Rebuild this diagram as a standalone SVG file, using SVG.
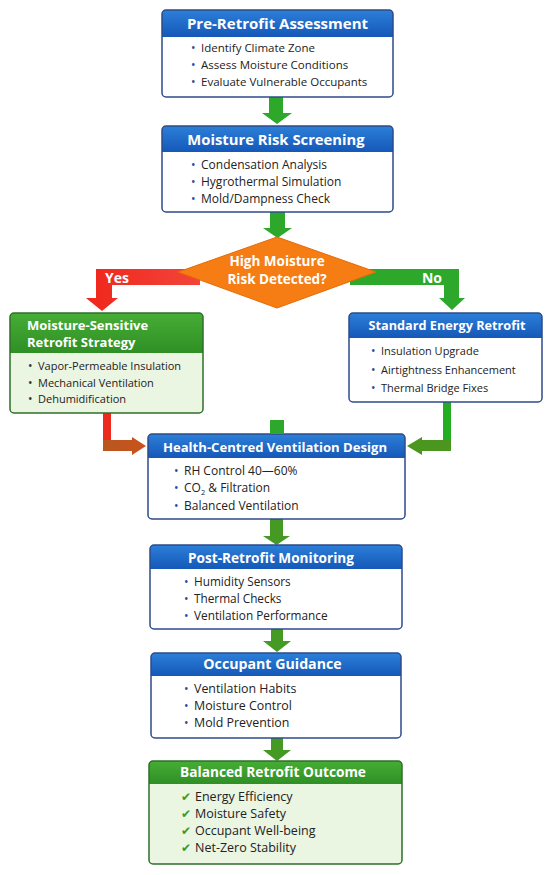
<svg xmlns="http://www.w3.org/2000/svg" width="550" height="875" viewBox="0 0 550 875">
<defs>
<linearGradient id="gBlue" x1="0" y1="0" x2="0" y2="1"><stop offset="0" stop-color="#2c7fd8"/><stop offset="1" stop-color="#1558b8"/></linearGradient>
<linearGradient id="gGreen" x1="0" y1="0" x2="0" y2="1"><stop offset="0" stop-color="#46ad35"/><stop offset="1" stop-color="#2f8f25"/></linearGradient>
<linearGradient id="gRed" x1="0" y1="0" x2="1" y2="0"><stop offset="0" stop-color="#f0261c"/><stop offset="1" stop-color="#f2453a"/></linearGradient>
<linearGradient id="gRedH" x1="0" y1="0" x2="1" y2="0"><stop offset="0" stop-color="#b8571f"/><stop offset="1" stop-color="#c9521c"/></linearGradient>
<style>
.hb{fill:url(#gBlue)}
.hg{fill:url(#gGreen)}
.body{fill:#ffffff}
.gbody{fill:#eaf5e2}
.bb{fill:none;stroke:#2d4b8a;stroke-width:1.5}
.gb{fill:none;stroke:#2f6f2a;stroke-width:1.5}
.t{font-family:"Open Sans","Noto Sans",sans-serif;font-weight:700;font-size:13.5px;fill:#ffffff;text-anchor:middle}
.tl{font-family:"Open Sans","Noto Sans",sans-serif;font-weight:700;font-size:13px;fill:#ffffff}
.i{font-family:"Open Sans","Noto Sans",sans-serif;font-size:11px;fill:#222222}
.b{font-family:"Open Sans","Noto Sans",sans-serif;font-size:12px;fill:#2a4a9a}
.bd{font-family:"Open Sans","Noto Sans",sans-serif;font-size:12px;fill:#333333}
.ck{font-family:"DejaVu Sans",sans-serif;font-size:12px;fill:#3a9a2a}
.lbl{font-family:"Open Sans","Noto Sans",sans-serif;font-weight:700;font-size:14px;fill:#ffffff;text-anchor:middle}
.ga{fill:#2ea82a}
.go{fill:#449a22}
</style>
</defs>
<rect width="550" height="875" fill="#ffffff"/>

<g id="connectors">
  <path class="ga" d="M269,97 H283 V113 H292 L277,124 L262,113 H269 Z"/>
  <path class="ga" d="M270,212 H285 V228 H292 L277.5,238 L263,228 H270 Z"/>
  <path fill="url(#gRed)" d="M200,269 H96 V298 H86 L102,311 L118,298 H112 V285 H200 Z"/>
  <text class="lbl" x="117" y="283">Yes</text>
  <path class="ga" d="M350,269 H459 V298 H465 L452,310 L439,298 H444 V285 H350 Z"/>
  <text class="lbl" x="432" y="283">No</text>
  <rect x="103" y="413" width="8" height="30" fill="#ee2a1e"/>
  <path fill="url(#gRedH)" d="M103,440 H132 V437 L146,446 L132,455 V451 H103 Z"/>
  <rect x="443" y="402" width="8" height="40" fill="#22ad22"/>
  <path fill="#4a961e" d="M451,440 H422 V437 L407,446 L422,455 V451 H451 Z"/>
  <rect x="270" y="420" width="14" height="13" fill="#2ea82a"/>
  <path class="go" d="M270,519 H283 V536 H290 L276.5,545 L263,536 H270 Z"/>
  <path class="go" d="M271,629 H283 V641 H291 L277,652 L263,641 H271 Z"/>
  <path class="go" d="M271,738 H283 V750 H291 L277,761 L263,750 H271 Z"/>
</g>

<g id="pre-retrofit">
  <rect class="body" x="162" y="10" width="231" height="87" rx="4"/>
  <path class="hb" d="M162,37 V14 Q162,10 166,10 H389 Q393,10 393,14 V37 Z"/>
  <rect class="bb" x="162" y="10" width="231" height="87" rx="4"/>
  <text class="t" x="277.5" y="29" style="font-size:15px">Pre-Retrofit Assessment</text>
  <text class="b" x="191" y="52">•</text><text class="i" x="201" y="52" style="font-size:11.5px">Identify Climate Zone</text>
  <text class="b" x="191" y="69">•</text><text class="i" x="201" y="69" style="font-size:11.5px">Assess Moisture Conditions</text>
  <text class="b" x="191" y="86">•</text><text class="i" x="201" y="86" style="font-size:11.5px">Evaluate Vulnerable Occupants</text>
</g>

<g id="risk-screening">
  <rect class="body" x="162" y="126" width="231" height="86" rx="4"/>
  <path class="hb" d="M162,152 V130 Q162,126 166,126 H389 Q393,126 393,130 V152 Z"/>
  <rect class="bb" x="162" y="126" width="231" height="86" rx="4"/>
  <text class="t" x="276" y="145" style="font-size:14.8px">Moisture Risk Screening</text>
  <text class="b" x="191" y="169">•</text><text class="i" x="201" y="169" style="font-size:12px">Condensation Analysis</text>
  <text class="b" x="191" y="186">•</text><text class="i" x="201" y="186" style="font-size:12px">Hygrothermal Simulation</text>
  <text class="b" x="191" y="203">•</text><text class="i" x="201" y="203" style="font-size:12px">Mold/Dampness Check</text>
</g>

<g id="decision">
  <path d="M277,237 L376,272 L277,308 L178,272 Z" fill="#f57d14" stroke="#e66a05" stroke-width="1"/>
  <text class="t" x="277" y="266" style="font-size:13.5px">High Moisture</text>
  <text class="t" x="277" y="284" style="font-size:13.5px">Risk Detected?</text>
</g>

<g id="moisture-sensitive">
  <rect class="gbody" x="10" y="313" width="193" height="100" rx="4"/>
  <path class="hg" d="M10,353 V317 Q10,313 14,313 H199 Q203,313 203,317 V353 Z"/>
  <rect class="gb" x="10" y="313" width="193" height="100" rx="4"/>
  <text class="tl" x="27" y="330">Moisture-Sensitive</text>
  <text class="tl" x="27" y="347">Retrofit Strategy</text>
  <text class="bd" x="28" y="370">•</text><text class="i" x="38" y="370">Vapor-Permeable Insulation</text>
  <text class="bd" x="28" y="387">•</text><text class="i" x="38" y="387">Mechanical Ventilation</text>
  <text class="bd" x="28" y="403">•</text><text class="i" x="38" y="403">Dehumidification</text>
</g>

<g id="standard-retrofit">
  <rect class="body" x="349" y="313" width="193" height="89" rx="4"/>
  <path class="hb" d="M349,338 V317 Q349,313 353,313 H538 Q542,313 542,317 V338 Z"/>
  <rect class="bb" x="349" y="313" width="193" height="89" rx="4"/>
  <text class="t" x="447" y="330" style="font-size:12.7px">Standard Energy Retrofit</text>
  <text class="b" x="371" y="355">•</text><text class="i" x="381" y="355">Insulation Upgrade</text>
  <text class="b" x="371" y="374">•</text><text class="i" x="381" y="374">Airtightness Enhancement</text>
  <text class="b" x="371" y="392">•</text><text class="i" x="381" y="392">Thermal Bridge Fixes</text>
</g>

<g id="ventilation-design">
  <rect class="body" x="148" y="434" width="257" height="85" rx="4"/>
  <path class="hb" d="M148,458 V438 Q148,434 152,434 H401 Q405,434 405,438 V458 Z"/>
  <rect class="bb" x="148" y="434" width="257" height="85" rx="4"/>
  <text class="t" x="275" y="452" style="font-size:13.1px">Health-Centred Ventilation Design</text>
  <text class="b" x="174" y="475">•</text><text class="i" x="184" y="475" style="font-size:12px">RH Control 40—60%</text>
  <text class="b" x="174" y="492">•</text><text class="i" x="184" y="492" style="font-size:12px">CO<tspan font-size="7.5" dy="3">2</tspan><tspan dy="-3"> &amp; Filtration</tspan></text>
  <text class="b" x="174" y="510">•</text><text class="i" x="184" y="510" style="font-size:12px">Balanced Ventilation</text>
</g>

<g id="monitoring">
  <rect class="body" x="150" y="545" width="252" height="84" rx="4"/>
  <path class="hb" d="M150,569 V549 Q150,545 154,545 H398 Q402,545 402,549 V569 Z"/>
  <rect class="bb" x="150" y="545" width="252" height="84" rx="4"/>
  <text class="t" x="271" y="563" style="font-size:13.6px">Post-Retrofit Monitoring</text>
  <text class="b" x="184" y="586">•</text><text class="i" x="194" y="586" style="font-size:11.8px">Humidity Sensors</text>
  <text class="b" x="184" y="603">•</text><text class="i" x="194" y="603" style="font-size:11.8px">Thermal Checks</text>
  <text class="b" x="184" y="620">•</text><text class="i" x="194" y="620" style="font-size:11.8px">Ventilation Performance</text>
</g>

<g id="occupant-guidance">
  <rect class="body" x="151" y="653" width="250" height="85" rx="4"/>
  <path class="hb" d="M151,676 V657 Q151,653 155,653 H397 Q401,653 401,657 V676 Z"/>
  <rect class="bb" x="151" y="653" width="250" height="85" rx="4"/>
  <text class="t" x="272.5" y="669" style="font-size:14.2px">Occupant Guidance</text>
  <text class="b" x="184" y="693">•</text><text class="i" x="194" y="693" style="font-size:12.4px">Ventilation Habits</text>
  <text class="b" x="184" y="710">•</text><text class="i" x="194" y="710" style="font-size:12.4px">Moisture Control</text>
  <text class="b" x="184" y="727">•</text><text class="i" x="194" y="727" style="font-size:12.4px">Mold Prevention</text>
</g>

<g id="outcome">
  <rect class="gbody" x="149" y="761" width="253" height="103" rx="4"/>
  <path class="hg" d="M149,784 V765 Q149,761 153,761 H398 Q402,761 402,765 V784 Z"/>
  <rect class="gb" x="149" y="761" width="253" height="103" rx="4"/>
  <text class="t" x="273" y="777" style="font-size:13.7px">Balanced Retrofit Outcome</text>
  <text class="ck" x="181" y="801">✔</text><text class="i" x="195" y="801" style="font-size:12.5px">Energy Efficiency</text>
  <text class="ck" x="181" y="818">✔</text><text class="i" x="195" y="818" style="font-size:12.5px">Moisture Safety</text>
  <text class="ck" x="181" y="835">✔</text><text class="i" x="195" y="835" style="font-size:12.5px">Occupant Well-being</text>
  <text class="ck" x="181" y="852">✔</text><text class="i" x="195" y="852" style="font-size:12.5px">Net-Zero Stability</text>
</g>
</svg>
